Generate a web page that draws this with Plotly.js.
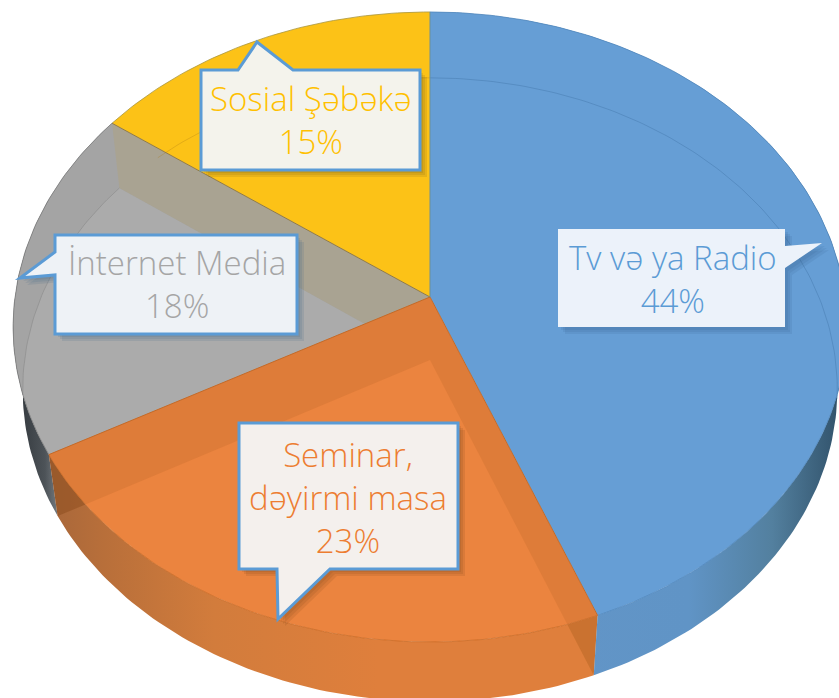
<!DOCTYPE html>
<html><head><meta charset="utf-8">
<script src="https://cdn.plot.ly/plotly-3.0.1.min.js"></script>
<style>html,body{margin:0;padding:0;background:#fff;overflow:hidden}</style>
</head><body><div id="chart" style="width:839px;height:698px"></div>
<script>
// Data
const categories = ["Tv və ya Radio", "Seminar,<br>dəyirmi masa", "İnternet Media", "Sosial Şəbəkə"];
const shares = [44, 23, 18, 15];
const topColors = ["#669ed5", "#eb843f", "#a4a4a4", "#fcc217"];
const floorColors = ["#669ed5", "#eb843f", "#ababab", "#fcc217"];
const rimColors = ["#5288bd", "#c96b26", "#7d7d7d", "#a8953f"];
const textColors = ["#5b9bd5", "#ed7d31", "#a5a5a5", "#ffc000"];
const wallScales = [
  [[0,"#6496c8"],[0.62,"#6094c6"],[0.82,"#53809f"],[0.97,"#34566f"],[1,"#1f3446"]],
  [[0,"#a8673a"],[0.1,"#b86f3a"],[0.3,"#d27c3c"],[0.6,"#df7f3c"],[1,"#df7f3c"]],
  [[0,"#2e3338"],[0.3,"#4d5358"],[0.45,"#7c8287"],[1,"#7c8287"]],
  [[0,"#a4a4a4"],[1,"#a4a4a4"]]
];

// Perspective projection of the pie disc, fraction t runs clockwise from 12 o'clock
const cx = 430, A = 415, c = -0.0952, B = 283.9, Y0 = 297;
function topPt(t){
  const th = 2*Math.PI*t, u = Math.sin(th), v = -Math.cos(th), d = 1 + c*v;
  return [cx + A*u/d, (B*v + Y0)/d];
}
function botPt(t){
  const p = topPt(t);
  return [cx + (p[0]-cx)*0.977, 0.99*p[1] + 66];
}
const apexTop = [cx, Y0];
const apexBot = [cx, 0.99*Y0 + 66];
function arc(fn, a, b){
  const n = Math.max(2, Math.ceil(Math.abs(b-a)*360)), out = [];
  for(let i=0;i<=n;i++) out.push(fn(a+(b-a)*i/n));
  return out;
}
function poly(pts, o){
  const closed = pts.concat([pts[0]]);
  return Object.assign({
    type:"scatter", mode:"lines", x:closed.map(p=>p[0]), y:closed.map(p=>p[1]),
    fill:"toself", line:{width:0}, hoverinfo:"skip", showlegend:false
  }, o);
}
function stroke(pts, color, w){
  return {type:"scatter", mode:"lines", x:pts.map(p=>p[0]), y:pts.map(p=>p[1]),
    line:{color:color, width:w}, hoverinfo:"skip", showlegend:false};
}

const total = shares.reduce((s,v)=>s+v,0);
const starts = [], ends = [];
let acc = 0;
shares.forEach(v=>{starts.push(acc/total); acc+=v; ends.push(acc/total);});

// where the lower disc's rim passes behind the upper disc's rim on the left
let tTop = starts[2], tBot = starts[2], best = 1e9;
for(let a=starts[2]; a<ends[2]; a+=0.001){
  for(let b=starts[2]; b<ends[2]; b+=0.001){
    const p=topPt(a), q=botPt(b), dd=(p[0]-q[0])**2+(p[1]-q[1])**2;
    if(dd<best){best=dd;tTop=a;tBot=b;}
  }
}

const traces = [];
// outer walls
[2,1,0].forEach(i=>{
  const pts = arc(topPt,starts[i],ends[i]).concat(arc(botPt,ends[i],starts[i]));
  traces.push(poly(pts,{fillcolor:topColors[i],fillgradient:{type:"horizontal",colorscale:wallScales[i]}}));
});
// radial inner walls of the orange slice, seen through the outer wall
const edgeA = [apexTop, topPt(ends[1]), botPt(ends[1]), apexBot];
const edgeB = [apexTop, topPt(starts[1]), botPt(starts[1]), apexBot];
traces.push(poly(edgeA,{fillcolor:"rgba(120,60,20,0.28)"}));
traces.push(poly(edgeB,{fillcolor:"rgba(150,90,20,0.16)"}));
// grey top, floor and inner wall
function slice(i){ return [apexTop].concat(arc(topPt,starts[i],ends[i])); }
traces.push(poly(slice(2),{fillcolor:topColors[2]}));
traces.push(poly([apexBot].concat(arc(topPt,starts[2],tTop)).concat(arc(botPt,tBot,ends[2])),{fillcolor:floorColors[2]}));
traces.push(poly([apexTop,topPt(ends[2]),botPt(ends[2]),apexBot],{fillcolor:"#a9a392"}));
// yellow, orange, blue tops
traces.push(poly(slice(3),{fillcolor:topColors[3]}));
traces.push(poly(slice(1),{fillcolor:topColors[1]}));
traces.push(poly(edgeA,{fillcolor:"rgba(150,80,20,0.14)"}));
traces.push(poly(edgeB,{fillcolor:"rgba(150,80,20,0.14)"}));
traces.push(poly(slice(0),{fillcolor:topColors[0]}));
// far rim of the lower disc, visible through the top
traces.push(stroke(arc(botPt,starts[0],0.27),"rgba(50,100,150,0.3)",1));
traces.push(stroke(arc(botPt,0.873,1),"rgba(170,120,20,0.3)",1));
traces.push(stroke(arc(botPt,tBot,ends[2]),"rgba(110,110,110,0.3)",1));
// rims and slice edges
[0,1,2,3].forEach(i=>{ traces.push(stroke(arc(topPt,starts[i],ends[i]),rimColors[i],0.8)); });
traces.push(stroke([topPt(ends[0]),apexTop,topPt(ends[1])],"#c46a28",1));
traces.push(stroke([topPt(ends[2]),apexTop],"#8f7a4a",1));
traces.push(stroke([topPt(0),apexTop],"#6b8f9a",1));

// Callouts
function rectPath(c){
  return "M"+c.pts.map(p=>p[0]+","+p[1]).join(" L")+" Z";
}
function shift(pts,d){return pts.map(p=>[p[0]+d,p[1]+d]);}
const callouts = [
  {i:0, pts:[[558,229],[785,229],[785,246],[822,243],[785,268],[785,327],[558,327]], fill:"#ecf2fa", border:"#ecf2fa", bw:0, shadow:"rgba(40,80,120,0.10)", tx:673, ty:279},
  {i:1, pts:[[239,423],[458,423],[458,569],[330,569],[278,619],[277,569],[239,569]], fill:"#f4f0ed", border:"#5b9bd5", bw:3, shadow:"rgba(110,60,20,0.13)", tx:348, ty:497},
  {i:2, pts:[[55,235],[297,235],[297,334],[55,334],[55,275],[20,278],[55,252]], fill:"#eef2f6", border:"#5b9bd5", bw:3, shadow:"rgba(50,90,130,0.13)", tx:177, ty:284},
  {i:3, pts:[[201,70],[238,70],[257,42],[293,70],[420,70],[420,170],[201,170]], fill:"#f4f3ec", border:"#5b9bd5", bw:3, shadow:"rgba(90,80,30,0.13)", tx:311, ty:120}
];
const shapes = [], annotations = [];
callouts.forEach(cb=>{
  [7,5,3].forEach(d=>{
    shapes.push({type:"path",xref:"x",yref:"y",layer:"above",path:rectPath({pts:shift(cb.pts,d)}),
      fillcolor:cb.shadow,line:{width:0}});
  });
  shapes.push({type:"path",xref:"x",yref:"y",layer:"above",path:rectPath(cb),
    fillcolor:cb.fill,line:{color:cb.border,width:cb.bw}});
  annotations.push({x:cb.tx,y:cb.ty,xref:"x",yref:"y",showarrow:false,align:"center",
    text:categories[cb.i]+"<br>"+Math.round(shares[cb.i]/total*100)+"%",
    font:{family:"'Open Sans',sans-serif",size:33,color:textColors[cb.i],weight:300}});
});

const layout = {
  width:839,height:698,margin:{l:0,r:0,t:0,b:0},
  paper_bgcolor:"#fff",plot_bgcolor:"#fff",showlegend:false,
  xaxis:{range:[0,839],visible:false,fixedrange:true},
  yaxis:{range:[698,0],visible:false,fixedrange:true},
  shapes:shapes,annotations:annotations,hovermode:false
};
Plotly.newPlot("chart",traces,layout,{displayModeBar:false,staticPlot:true});
</script></body></html>
